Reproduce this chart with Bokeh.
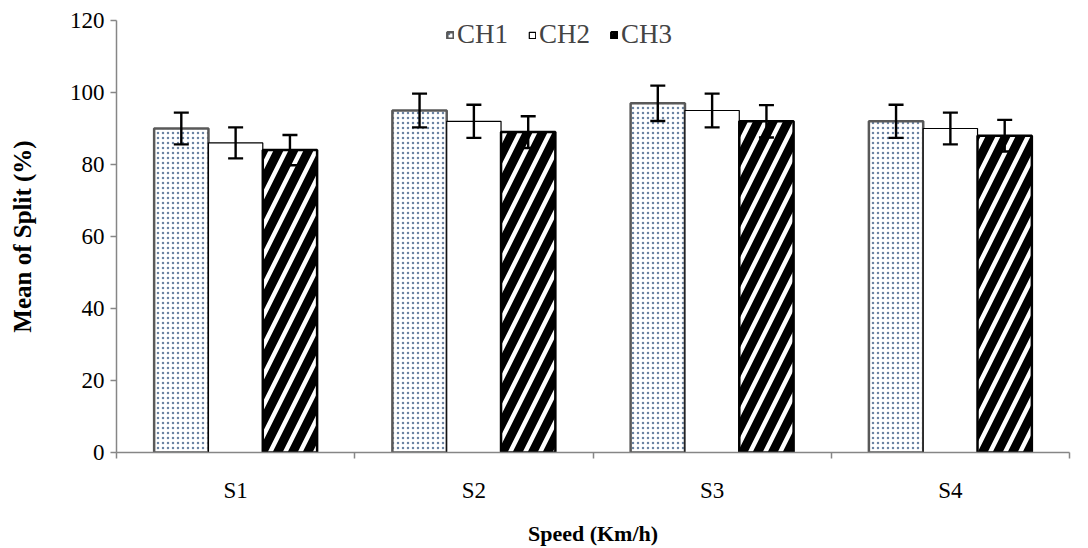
import numpy as np
from bokeh.plotting import figure
from bokeh.models import (Range1d, FixedTicker, ColumnDataSource, Whisker, TeeHead,
                          Legend, LegendItem)
from bokeh.embed import file_html
from bokeh.resources import INLINE

speeds = ["S1", "S2", "S3", "S4"]
series = ["CH1", "CH2", "CH3"]
ch1 = [90, 95, 97, 92]
ch2 = [86, 92, 95, 90]
ch3 = [84, 89, 92, 88]
ch1_err = [4.4, 4.7, 4.9, 4.6]
ch2_err = [4.3, 4.6, 4.7, 4.4]
ch3_err = [4.2, 4.4, 4.5, 4.4]
y_ticks = [0, 20, 40, 60, 80, 100, 120]

FONT = "Liberation Serif"

p = figure(width=1088, height=548, output_backend="svg", toolbar_location=None,
           x_range=Range1d(0, len(speeds)), y_range=Range1d(0, 120),
           min_border_left=116, min_border_right=19, min_border_top=20,
           min_border_bottom=92)
p.outline_line_color = None
p.xgrid.visible = False
p.ygrid.visible = False

centers = np.arange(len(speeds)) + 0.5
bw = 0.228
offsets = [-bw, 0.0, bw]
styles = [
    dict(fill_color="white", line_color="#595959", line_width=2.5,
         hatch_pattern="dot", hatch_color="#6b84a3", hatch_scale=5, hatch_weight=1.2),
    dict(fill_color="white", line_color="black", line_width=1.2),
    dict(fill_color="white", line_color="black", line_width=2.5,
         hatch_pattern="right_diagonal_line", hatch_color="black",
         hatch_scale=30, hatch_weight=9),
]
vals = [ch1, ch2, ch3]
errs = [ch1_err, ch2_err, ch3_err]

items = []
for name, v, e, off, st in zip(series, vals, errs, offsets, styles):
    src = ColumnDataSource(dict(x=centers + off, top=v,
                                upper=np.array(v) + np.array(e),
                                lower=np.array(v) - np.array(e)))
    r = p.vbar(x="x", top="top", bottom=0, width=bw, source=src, **st)
    items.append(LegendItem(label=name, renderers=[r]))
    w = Whisker(base="x", upper="upper", lower="lower", source=src,
                line_color="black", line_width=2.4, level="overlay",
                upper_head=TeeHead(size=15, line_width=2.4, line_color="black"),
                lower_head=TeeHead(size=15, line_width=2.4, line_color="black"))
    p.add_layout(w)

legend = Legend(items=items, orientation="horizontal", location=(330, 402),
                border_line_color=None, background_fill_alpha=0,
                label_text_font=FONT, label_text_font_size="27px",
                glyph_width=8, glyph_height=8, label_standoff=3, spacing=20,
                margin=0, padding=0)
p.add_layout(legend)

# x axis
xa = p.xaxis[0]
xa.ticker = FixedTicker(ticks=list(centers), minor_ticks=list(range(len(speeds) + 1)))
xa.major_label_overrides = {float(c): s for c, s in zip(centers, speeds)}
xa.major_tick_in = 0
xa.major_tick_out = 0
xa.minor_tick_in = 0
xa.minor_tick_out = 6
xa.minor_tick_line_color = "#868686"
xa.minor_tick_line_width = 1.5
xa.axis_line_color = "#868686"
xa.axis_line_width = 1.5
xa.major_label_text_font = FONT
xa.major_label_text_font_size = "23px"
xa.major_label_text_color = "black"
xa.major_label_standoff = 19
xa.axis_label = "Speed (Km/h)"
xa.axis_label_text_font = FONT
xa.axis_label_text_font_style = "bold"
xa.axis_label_text_font_size = "22px"
xa.axis_label_text_color = "black"
xa.axis_label_standoff = 15

# y axis
ya = p.yaxis[0]
ya.ticker = FixedTicker(ticks=y_ticks, minor_ticks=[])
ya.major_tick_in = 0
ya.major_tick_out = 6
ya.major_tick_line_color = "#868686"
ya.major_tick_line_width = 1.5
ya.axis_line_color = "#868686"
ya.axis_line_width = 1.5
ya.major_label_text_font = FONT
ya.major_label_text_font_size = "23px"
ya.major_label_text_color = "black"
ya.major_label_standoff = 6
ya.axis_label = "Mean of Split (%)"
ya.axis_label_text_font = FONT
ya.axis_label_text_font_style = "bold"
ya.axis_label_text_font_size = "25px"
ya.axis_label_text_color = "black"
ya.axis_label_standoff = 31

open("out.html", "w").write(file_html(p, INLINE))
